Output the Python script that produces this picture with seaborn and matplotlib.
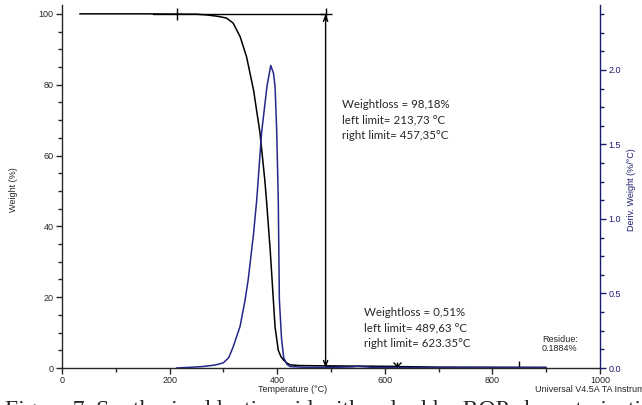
import matplotlib
matplotlib.use("Agg")
import matplotlib.pyplot as plt
import seaborn as sns
import numpy as np
import pandas as pd

# ---- data ----
weight_temp = [33, 150, 250, 269, 290, 306, 318, 331, 343, 356, 368, 377, 380, 387, 396, 402, 407, 412, 418, 424, 440, 490, 560, 623, 700, 850, 900]
weight_pct = [100, 100, 99.9, 99.7, 99.3, 98.8, 97.4, 93.6, 87.9, 78.5, 66.4, 53, 47.5, 33.3, 11.6, 5.0, 3.2, 2.2, 1.4, 0.9, 0.7, 0.6, 0.5, 0.4, 0.25, 0.2, 0.19]

deriv_temp = [213, 240, 262, 285, 300, 310, 318, 331, 340, 346, 356, 362, 371, 381, 388, 393, 396, 399, 402, 404, 408, 412, 418, 424, 450, 500, 540, 550, 565, 575, 600, 700, 800, 900]
deriv_val = [0.0, 0.005, 0.01, 0.02, 0.035, 0.07, 0.14, 0.28, 0.45, 0.59, 0.9, 1.13, 1.58, 1.89, 2.03, 1.98, 1.89, 1.6, 1.13, 0.46, 0.2, 0.07, 0.025, 0.01, 0.005, 0.004, 0.008, 0.012, 0.008, 0.004, 0.003, 0.002, 0.002, 0.001]

step1_left = 213.73
step1_right = 490.0
step1_loss_text = "Weightloss = 98,18%\nleft limit= 213,73 °C\nright limit= 457,35°C"
step2_left = 490.0
step2_right = 623.35
step2_level = 0.55
step2_loss_text = "Weightloss = 0,51%\nleft limit= 489,63 °C\nright limit= 623.35°C"
residue_temp = 850
residue_text = "Residue:\n0.1884%"

x_label = "Temperature (°C)"
y_label = "Weight (%)"
y2_label = "Deriv. Weight (%/°C)"
footer = "Universal V4.5A TA Instruments"
caption = "Figure 7. Synthesized lactic acid with polyol by ROP characterization"

NAVY = "#1c1c6e"
CURVE_NAVY = "#26268a"

sns.set_style("ticks")
plt.rcParams["font.family"] = ["Liberation Sans", "DejaVu Sans"]

W, H = 642, 405
fig = plt.figure(figsize=(W / 100, H / 100), dpi=100)
ax = fig.add_axes([62 / W, (H - 368) / H, (600 - 62) / W, (368 - 5) / H])

wdf = pd.DataFrame({"T": weight_temp, "W": weight_pct})
ddf = pd.DataFrame({"T": deriv_temp, "D": deriv_val})

sns.lineplot(data=wdf, x="T", y="W", ax=ax, color="black", lw=1.1)
ax.set_xlim(0, 1000)
ax.set_ylim(0, 102.5)

ax2 = ax.twinx()
sns.lineplot(data=ddf, x="T", y="D", ax=ax2, color=CURVE_NAVY, lw=1.1)
ax2.set_ylim(0, 2.436)

# step 1 annotation
ax.plot([170, step1_right], [100, 100], color="black", lw=1.0)
ax.plot([step1_left], [100], marker="|", ms=8, mew=1.0, color="black")
ax.annotate("", xy=(step1_right, 100), xytext=(step1_right, 0),
            arrowprops=dict(arrowstyle="<->,head_length=0.4,head_width=0.15", color="black", lw=1.0, shrinkA=0, shrinkB=0))
ax.plot([step1_right], [100], marker="+", ms=8, mew=1.0, color="black")

# step 2 annotation
ax.plot([step2_left, step2_right], [step2_level, step2_level], color="black", lw=1.0)
ax.plot([step2_right], [step2_level], marker="x", ms=6, mew=1.0, color="black")
ax.plot([step2_right], [step2_level], marker="|", ms=6, mew=1.0, color="black")
ax.plot([residue_temp], [0.3], marker="|", ms=8, mew=1.0, color="black")

# annotation texts (figure-pixel placement)
fig.text(342 / W, 1 - 120 / H, step1_loss_text, fontsize=8.3, family=["Lato", "DejaVu Sans"], va="center", ha="left", linespacing=1.55)
fig.text(364 / W, 1 - 328 / H, step2_loss_text, fontsize=8.3, family=["Lato", "DejaVu Sans"], va="center", ha="left", linespacing=1.55)
fig.text(542 / W, 1 - 344 / H, residue_text, fontsize=6.5, va="center", ha="left", linespacing=1.1)

# axes styling
ax.spines["top"].set_visible(False)
ax2.spines["top"].set_visible(False)
ax.spines["right"].set_visible(False)
ax2.spines["left"].set_visible(False)
ax2.spines["bottom"].set_visible(False)
ax2.spines["right"].set_color(NAVY)
for s in ["left", "bottom"]:
    ax.spines[s].set_linewidth(1.0)
ax2.spines["right"].set_linewidth(1.0)

ax.set_xticks([0, 200, 400, 600, 800, 1000])
ax.set_xticks(np.arange(100, 1000, 200), minor=True)
ax.set_yticks([0, 20, 40, 60, 80, 100])
ax.set_yticks([v for v in range(0, 101, 5) if v % 20 != 0], minor=True)
ax2.set_yticks([0.0, 0.5, 1.0, 1.5, 2.0])
ax2.set_yticks([v for v in np.arange(0, 2.44, 0.125) if abs(v * 2 - round(v * 2)) > 1e-6], minor=True)
ax2.set_yticklabels(["0.0", "0.5", "1.0", "1.5", "2.0"])

ax.tick_params(axis="both", which="major", direction="out", length=4, width=1, labelsize=6.5, pad=2)
ax.tick_params(axis="both", which="minor", direction="out", length=3, width=1)
ax2.tick_params(axis="y", which="major", direction="out", length=4, width=1, labelsize=6.5, colors=NAVY, pad=2)
ax2.tick_params(axis="y", which="minor", direction="out", length=3, width=1, colors=NAVY)

ax.set_xlabel("")
ax.set_ylabel("")
ax2.set_ylabel("")
fig.text(14 / W, 1 - 190 / H, y_label, rotation=90, fontsize=6.5, ha="center", va="center")
fig.text(631 / W, 1 - 190 / H, y2_label, rotation=90, fontsize=6.5, ha="center", va="center", color=NAVY)
fig.text(293 / W, 1 - 390 / H, x_label, fontsize=6.5, ha="center", va="center")
fig.text(535 / W, 1 - 390 / H, footer, fontsize=6.5, ha="left", va="center")
fig.text(5 / W, 1 - 400 / H, caption, fontsize=17, ha="left", va="top", family=["Liberation Serif", "DejaVu Serif"])

fig.savefig("out.png", dpi=100)
